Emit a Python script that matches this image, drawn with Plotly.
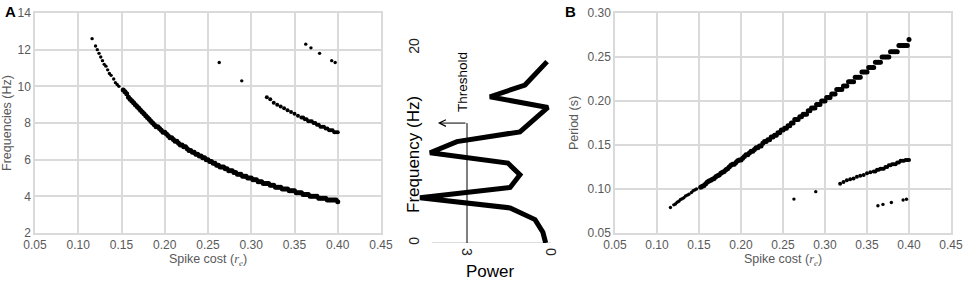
import plotly.graph_objects as go

W, H = 964, 283

# ---------------- Panel A / B data ----------------
# sparse start of the main branch
cost_main_sparse = [0.116, 0.120, 0.122, 0.124, 0.126, 0.128, 0.130, 0.132, 0.134,
                    0.136, 0.138, 0.141, 0.143, 0.145, 0.147]
freq_main_sparse = [12.6, 12.2, 12.0, 11.8, 11.6, 11.4, 11.2, 11.1, 10.9,
                    10.7, 10.6, 10.4, 10.2, 10.1, 10.0]
period_main_sparse = [0.079, 0.082, 0.083, 0.085, 0.086, 0.088, 0.089, 0.090, 0.092,
                      0.093, 0.094, 0.096, 0.098, 0.099, 0.100]

# dense part of the main branch
cost_main = [0.152, 0.156, 0.160, 0.164, 0.168, 0.172, 0.176, 0.180, 0.184, 0.188,
             0.192, 0.196, 0.200, 0.204, 0.208, 0.212, 0.216, 0.220, 0.224, 0.228,
             0.232, 0.236, 0.240, 0.244, 0.248, 0.252, 0.256, 0.260, 0.264, 0.268,
             0.272, 0.276, 0.280, 0.284, 0.288, 0.292, 0.296, 0.300, 0.304, 0.308,
             0.312, 0.316, 0.320, 0.324, 0.328, 0.332, 0.336, 0.340, 0.344, 0.348,
             0.352, 0.356, 0.360, 0.364, 0.368, 0.372, 0.376, 0.380, 0.384, 0.388,
             0.392, 0.396, 0.400]
freq_main = [9.8, 9.6, 9.3, 9.1, 8.9, 8.7, 8.5, 8.3, 8.1, 7.9,
             7.8, 7.6, 7.5, 7.3, 7.2, 7.0, 6.9, 6.8, 6.7, 6.5,
             6.4, 6.3, 6.2, 6.1, 6.0, 5.9, 5.8, 5.7, 5.6, 5.6,
             5.5, 5.4, 5.3, 5.2, 5.2, 5.1, 5.0, 5.0, 4.9, 4.8,
             4.8, 4.7, 4.7, 4.6, 4.5, 4.5, 4.4, 4.4, 4.3, 4.3,
             4.2, 4.2, 4.1, 4.1, 4.0, 4.0, 4.0, 3.9, 3.9, 3.8,
             3.8, 3.8, 3.7]
period_main = [0.102, 0.104, 0.108, 0.110, 0.112, 0.115, 0.118, 0.120, 0.123, 0.127,
               0.128, 0.132, 0.133, 0.137, 0.139, 0.143, 0.145, 0.147, 0.149, 0.154,
               0.156, 0.159, 0.161, 0.164, 0.167, 0.169, 0.172, 0.175, 0.179, 0.179,
               0.182, 0.185, 0.189, 0.192, 0.192, 0.196, 0.200, 0.200, 0.204, 0.208,
               0.208, 0.213, 0.213, 0.217, 0.222, 0.222, 0.227, 0.227, 0.233, 0.233,
               0.238, 0.238, 0.244, 0.244, 0.250, 0.250, 0.250, 0.256, 0.256, 0.263,
               0.263, 0.263, 0.270]

# in-between samples of the dense main branch
cost_main_b = [0.154, 0.158, 0.162, 0.166, 0.170, 0.174, 0.178, 0.182, 0.186, 0.190,
               0.194, 0.198, 0.202, 0.206, 0.210, 0.214, 0.218, 0.222, 0.226, 0.230,
               0.234, 0.238, 0.242, 0.246, 0.250, 0.254, 0.258, 0.262, 0.266, 0.270,
               0.274, 0.278, 0.282, 0.286, 0.290, 0.294, 0.298, 0.302, 0.306, 0.310,
               0.314, 0.318, 0.322, 0.326, 0.330, 0.334, 0.338, 0.342, 0.346, 0.350,
               0.354, 0.358, 0.362, 0.366, 0.370, 0.374, 0.378, 0.382, 0.386, 0.390,
               0.394, 0.398]
freq_main_b = [9.7, 9.4, 9.2, 9.0, 8.8, 8.6, 8.4, 8.2, 8.0, 7.8,
               7.7, 7.5, 7.4, 7.2, 7.1, 7.0, 6.8, 6.7, 6.6, 6.5,
               6.4, 6.3, 6.2, 6.1, 6.0, 5.9, 5.8, 5.7, 5.6, 5.5,
               5.4, 5.4, 5.3, 5.2, 5.1, 5.1, 5.0, 4.9, 4.9, 4.8,
               4.7, 4.7, 4.6, 4.6, 4.5, 4.5, 4.4, 4.4, 4.3, 4.3,
               4.2, 4.2, 4.1, 4.1, 4.0, 4.0, 3.9, 3.9, 3.9, 3.8,
               3.8, 3.8]
period_main_b = [0.103, 0.106, 0.109, 0.111, 0.114, 0.116, 0.119, 0.122, 0.125, 0.128,
                 0.130, 0.133, 0.135, 0.139, 0.141, 0.143, 0.147, 0.149, 0.152, 0.154,
                 0.156, 0.159, 0.161, 0.164, 0.167, 0.169, 0.172, 0.175, 0.179, 0.182,
                 0.185, 0.185, 0.189, 0.192, 0.196, 0.196, 0.200, 0.204, 0.204, 0.208,
                 0.213, 0.213, 0.217, 0.217, 0.222, 0.222, 0.227, 0.227, 0.233, 0.233,
                 0.238, 0.238, 0.244, 0.244, 0.250, 0.250, 0.256, 0.256, 0.256, 0.263,
                 0.263, 0.263]

# second (harmonic) branch
cost_upper = [0.318, 0.322, 0.326, 0.330, 0.334, 0.338, 0.342, 0.346, 0.350, 0.354,
              0.358, 0.360, 0.362, 0.364, 0.366, 0.368, 0.370, 0.372, 0.374, 0.376,
              0.378, 0.380, 0.382, 0.384, 0.386, 0.388, 0.390, 0.392, 0.394, 0.396,
              0.398, 0.400]
freq_upper = [9.4, 9.3, 9.1, 9.0, 8.9, 8.8, 8.7, 8.6, 8.5, 8.4,
              8.3, 8.3, 8.2, 8.2, 8.1, 8.1, 8.1, 8.0, 8.0, 7.9,
              7.9, 7.8, 7.8, 7.8, 7.7, 7.7, 7.6, 7.6, 7.6, 7.5,
              7.5, 7.5]
period_upper = [0.106, 0.108, 0.110, 0.111, 0.112, 0.114, 0.115, 0.116, 0.118, 0.119,
                0.120, 0.120, 0.122, 0.122, 0.123, 0.123, 0.123, 0.125, 0.125, 0.127,
                0.127, 0.128, 0.128, 0.128, 0.130, 0.130, 0.132, 0.132, 0.132, 0.133,
                0.133, 0.133]

# isolated points
cost_iso = [0.263, 0.289, 0.363, 0.369, 0.379, 0.393, 0.397]
freq_iso = [11.3, 10.3, 12.3, 12.1, 11.8, 11.4, 11.3]
period_iso = [0.0885, 0.097, 0.081, 0.0825, 0.0846, 0.0875, 0.0883]

# ---------------- middle (rotated spectrum) data ----------------
spec_freq = [0, 1.1, 2.4, 3.6, 4.65, 5.7, 7.0, 8.2, 9.25, 10.4, 11.4, 13.9, 15.0, 16.2, 18.6]
spec_power = [0.19, 0.29, 0.57, 1.46, 4.68, 1.46, 1.11, 1.54, 4.32, 3.36, 1.11, 0.11, 2.18, 0.93, 0.14]
threshold_power = [3, 3]
threshold_freq = [0, 12.3]
threshold_arrow_end = 4.04

# tick values
xticks_cost = [0.05, 0.10, 0.15, 0.20, 0.25, 0.30, 0.35, 0.40, 0.45]
yticks_freq = [2, 4, 6, 8, 10, 12, 14]
yticks_period = [0.05, 0.10, 0.15, 0.20, 0.25, 0.30]
spec_freq_ticks = [0, 20]
spec_power_ticks = [3, 0]

# ---------------- figure ----------------
def px_x(p):
    return p / W

def px_y(p):
    return (H - p) / H

FONT = "Liberation Sans, Arial, sans-serif"
GRID = "#dadada"
TICKC = "#595959"

fig = go.Figure()

dense = dict(color="black", size=5.0)
upper = dict(color="black", size=4.0)
sparse = dict(color="black", size=3.4)

# Panel A
for xs, ys, mk in [(cost_main_sparse, freq_main_sparse, sparse), (cost_main, freq_main, dense),
                   (cost_main_b, freq_main_b, dense), (cost_upper, freq_upper, upper),
                   (cost_iso, freq_iso, sparse)]:
    fig.add_trace(go.Scatter(x=xs, y=ys, mode="markers", marker=mk, xaxis="x", yaxis="y"))

# Middle panel
fig.add_trace(go.Scatter(x=threshold_power, y=threshold_freq, mode="lines",
                         line=dict(color="black", width=1), xaxis="x2", yaxis="y2"))
fig.add_trace(go.Scatter(x=spec_power, y=spec_freq, mode="lines",
                         line=dict(color="black", width=5), xaxis="x2", yaxis="y2"))

# Panel B
for xs, ys, mk in [(cost_main_sparse, period_main_sparse, sparse), (cost_main, period_main, dense),
                   (cost_main_b, period_main_b, dense), (cost_upper, period_upper, upper),
                   (cost_iso, period_iso, sparse)]:
    fig.add_trace(go.Scatter(x=xs, y=ys, mode="markers", marker=mk, xaxis="x3", yaxis="y3"))

xtitle = ("Spike cost (<span style=\"font-family:'Liberation Serif'\"><i>r</i>"
          "<sub><i>e</i></sub></span>)")

common_x = dict(range=[0.05, 0.45], tickvals=xticks_cost, tickformat=".2f",
                showgrid=True, gridcolor=GRID, gridwidth=1.5, automargin=False,
                showline=True, mirror=True, linecolor=GRID, linewidth=1.5,
                zeroline=False, ticks="", tickfont=dict(size=12, color=TICKC, family=FONT),
                title=dict(text=xtitle, font=dict(size=12.5, color=TICKC, family=FONT), standoff=1))
common_y = dict(showgrid=True, gridcolor=GRID, gridwidth=1.5, automargin=False,
                showline=True, mirror=True, linecolor=GRID, linewidth=1.5,
                zeroline=False, ticks="", tickfont=dict(size=12, color=TICKC, family=FONT))

fig.update_layout(
    width=W, height=H,
    margin=dict(l=0, r=0, t=0, b=0),
    paper_bgcolor="white", plot_bgcolor="white",
    showlegend=False,
    font=dict(family=FONT),
    xaxis=dict(domain=[px_x(35), px_x(381)], anchor="y", **common_x),
    yaxis=dict(domain=[px_y(233), px_y(13)], anchor="x", range=[2, 14], tickvals=yticks_freq,
               title=dict(text="Frequencies (Hz)", font=dict(size=12.5, color=TICKC, family=FONT), standoff=8),
               **common_y),
    xaxis3=dict(domain=[px_x(615), px_x(951)], anchor="y3", **common_x),
    yaxis3=dict(domain=[px_y(233), px_y(13)], anchor="x3", range=[0.05, 0.30], tickvals=yticks_period,
                tickformat=".2f",
                title=dict(text="Period (s)", font=dict(size=12.5, color=TICKC, family=FONT), standoff=6),
                **common_y),
    xaxis2=dict(domain=[px_x(411), px_x(551)], anchor="y2", range=[5, 0], automargin=False,
                tickvals=spec_power_ticks, tickangle=90, ticks="", showgrid=False, showline=False,
                zeroline=False, ticklabelstandoff=4,
                tickfont=dict(size=14, color="#222222", family=FONT)),
    yaxis2=dict(domain=[px_y(243), px_y(48)], anchor="free", position=px_x(422), range=[0, 20],
                automargin=False,
                tickvals=spec_freq_ticks, tickangle=-90, ticks="", showgrid=False, showline=False,
                zeroline=False, tickfont=dict(size=14, color="#222222", family=FONT)),
)

# axis baseline of the rotated spectrum
fig.add_shape(type="line", xref="x2", yref="y2", x0=4.25, x1=-0.15, y0=0, y1=0,
              line=dict(color="#d0d0d0", width=1.5), layer="below")

# threshold arrow
fig.add_annotation(x=threshold_arrow_end, y=threshold_freq[1], ax=threshold_power[1], ay=threshold_freq[1],
                   xref="x2", yref="y2", axref="x2", ayref="y2", text="", showarrow=True,
                   arrowhead=5, arrowsize=1.3, arrowwidth=1, arrowcolor="black")

def label(x, y, text, size, angle=0, color="black", xanchor="center"):
    fig.add_annotation(x=px_x(x), y=px_y(y), xref="paper", yref="paper", text=text,
                       textangle=angle, showarrow=False, xanchor=xanchor, yanchor="middle",
                       font=dict(size=size, color=color, family=FONT))

label(463, 82, "Threshold", 13.5, angle=-90)
label(413, 155, "Frequency (Hz)", 17, angle=-90)
label(490, 271, "Power", 17)
label(3, 12, "<b>A</b>", 15, xanchor="left")
label(563, 12, "<b>B</b>", 15, xanchor="left")

fig.write_html("out.html", config={"displayModeBar": False},
               post_script="document.body.style.margin='0px';")
